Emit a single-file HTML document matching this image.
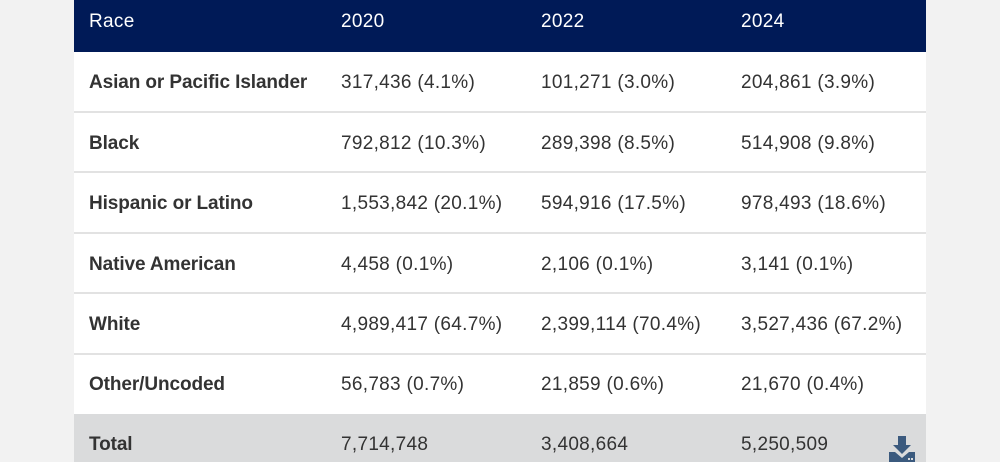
<!DOCTYPE html><html><head><style>
body{margin:0;background:#f2f2f2;width:1000px;height:462px;overflow:hidden;font-family:"Liberation Sans",sans-serif;}
.t{position:absolute;left:74px;top:0;width:852px;height:462px;background:#fff;}
.r{position:absolute;left:0;width:852px;border-bottom:2px solid #e2e2e2;box-sizing:border-box;}
.r span{position:absolute;font-size:19px;color:#333;line-height:20px;letter-spacing:0.3px;}
.h{background:#001a57;border:none}
.h span{color:#fff}
b{font-weight:bold;letter-spacing:-0.1px}
</style></head><body>
<div class="t">
<div class="r h" style="top:0;height:52px"><span style="left:15px;top:12px">Race</span><span style="left:267px;top:12px">2020</span><span style="left:467px;top:12px">2022</span><span style="left:667px;top:12px">2024</span></div>
<div class="r" style="top:52px;height:61px"><span style="left:15px;top:21px"><b>Asian or Pacific Islander</b></span><span style="left:267px;top:21px">317,436 (4.1%)</span><span style="left:467px;top:21px">101,271 (3.0%)</span><span style="left:667px;top:21px">204,861 (3.9%)</span></div>
<div class="r" style="top:113px;height:60px"><span style="left:15px;top:21px"><b>Black</b></span><span style="left:267px;top:21px">792,812 (10.3%)</span><span style="left:467px;top:21px">289,398 (8.5%)</span><span style="left:667px;top:21px">514,908 (9.8%)</span></div>
<div class="r" style="top:173px;height:61px"><span style="left:15px;top:21px"><b>Hispanic or Latino</b></span><span style="left:267px;top:21px">1,553,842 (20.1%)</span><span style="left:467px;top:21px">594,916 (17.5%)</span><span style="left:667px;top:21px">978,493 (18.6%)</span></div>
<div class="r" style="top:234px;height:60px"><span style="left:15px;top:21px"><b>Native American</b></span><span style="left:267px;top:21px">4,458 (0.1%)</span><span style="left:467px;top:21px">2,106 (0.1%)</span><span style="left:667px;top:21px">3,141 (0.1%)</span></div>
<div class="r" style="top:294px;height:61px"><span style="left:15px;top:21px"><b>White</b></span><span style="left:267px;top:21px">4,989,417 (64.7%)</span><span style="left:467px;top:21px">2,399,114 (70.4%)</span><span style="left:667px;top:21px">3,527,436 (67.2%)</span></div>
<div class="r" style="top:355px;height:59px;border:none"><span style="left:15px;top:20px"><b>Other/Uncoded</b></span><span style="left:267px;top:20px">56,783 (0.7%)</span><span style="left:467px;top:20px">21,859 (0.6%)</span><span style="left:667px;top:20px">21,670 (0.4%)</span></div>
<div class="r" style="top:414px;height:48px;background:#dadbdc;border:none"><span style="left:15px;top:21px"><b>Total</b></span><span style="left:267px;top:21px">7,714,748</span><span style="left:467px;top:21px">3,408,664</span><span style="left:667px;top:21px">5,250,509</span>
<svg style="position:absolute;left:815px;top:22px" width="26" height="26" viewBox="0 0 26 26"><path d="M9 0h8v9h5l-9 9-9-9h5z" fill="#3b5a7e"/><path d="M0 16h6l7 6 7-6h6v10H0z" fill="#3b5a7e"/><rect x="19" y="22" width="2" height="2" fill="#dadbdc"/><rect x="22" y="22" width="2" height="2" fill="#dadbdc"/></svg></div>
</div>
</body></html>
